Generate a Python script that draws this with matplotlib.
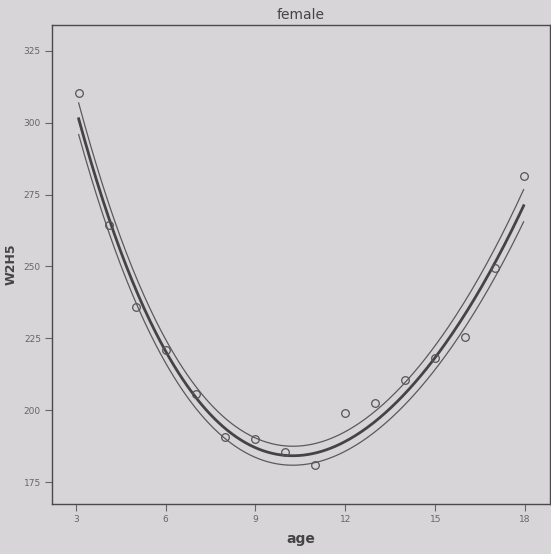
import numpy as np
import matplotlib

matplotlib.use("Agg")
import matplotlib.pyplot as plt


# observed points
ages = [3.1, 4.1, 5.0, 6.0, 7.0, 8.0, 9.0, 10.0, 11.0, 12.0, 13.0, 14.0, 15.0, 16.0, 17.0, 17.95]
w2h5 = [310.5, 264.5, 236.0, 221.0, 205.5, 190.5, 190.0, 185.5, 181.0, 199.0, 202.5, 210.5, 218.0, 225.5, 249.5, 281.5]

# fitted curve at each age
fit_vals = [302.0, 265.0, 243.0, 222.0, 205.5, 191.0, 187.0, 185.0, 185.0, 188.5, 196.0, 207.0, 219.0, 233.0, 250.0, 272.0]

# half width of the confidence band (start, middle, end)
band_ages = [3.1, 10.5, 17.95]
band_half = [5.5, 3.3, 5.6]

x_ticks = [3, 6, 9, 12, 15, 18]
y_ticks = [175, 200, 225, 250, 275, 300, 325]

x = np.array(ages)
y = np.array(w2h5)

# smooth curve through the read fit values
coef = np.polyfit(x, fit_vals, 4)
xs = np.linspace(x.min(), x.max(), 300)
fit = np.polyval(coef, xs)
half = np.polyval(np.polyfit(band_ages, band_half, 2), xs)

bg = "#d8d5d8"
ink = "#555555"

fig = plt.figure(figsize=(5.51, 5.54), dpi=100, facecolor=bg)
ax = fig.add_axes([52 / 551, 1 - 504 / 554, 498 / 551, 479 / 554], facecolor=bg)

ax.plot(xs, fit, color="#444444", lw=2.0)
ax.plot(xs, fit - half, color="#5a5a5a", lw=0.9)
ax.plot(xs, fit + half, color="#5a5a5a", lw=0.9)
ax.plot(x, y, "o", mfc="none", mec=ink, mew=0.9, ms=5.5)

ax.set_xlim(2.21, 18.83)
ax.set_ylim(167.35, 334.0)
ax.set_xticks(x_ticks)
ax.set_yticks(y_ticks)
ax.tick_params(direction="out", length=5, width=0.8, colors="#666666", labelsize=6.5, pad=3)

for side in ["left", "bottom", "top", "right"]:
    ax.spines[side].set_color("#4a4a4a")
    ax.spines[side].set_linewidth(1.0)

ax.set_title("female", fontsize=10, color="#444444", pad=4)
ax.set_xlabel("age", fontsize=10, fontweight="bold", color="#444444", labelpad=6)
ax.set_ylabel("W2H5", fontsize=9, fontweight="bold", color="#444444", labelpad=4)

fig.savefig("out.png", dpi=100, facecolor=bg)
plt.close(fig)
